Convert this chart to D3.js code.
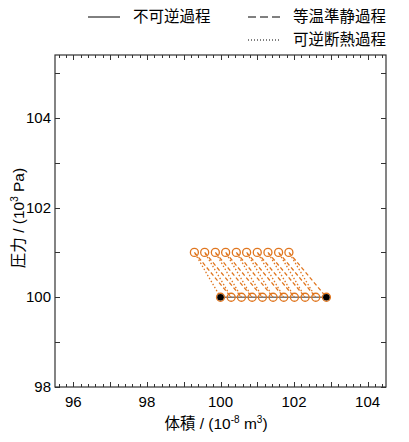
<!DOCTYPE html>
<html>
<head>
<meta charset="utf-8">
<script src="https://cdn.jsdelivr.net/npm/d3@7"></script>
<style>
  body { margin: 0; background: #fff; }
  text { font-family: "Liberation Sans", Arial, "Noto Sans CJK JP", sans-serif; fill: #000; }
</style>
</head>
<body>
<div id="chart"></div>
<script>
// pressures of the two levels (10^3 Pa)
var pLow = 100, pHigh = 101;

// volumes (10^-8 m^3)
// bottom row: start of each step at pLow (first = start, last = end)
var bottomV = [100.00, 100.29, 100.57, 100.86, 101.14, 101.43, 101.72, 102.01, 102.30, 102.59, 102.88];
// top row: after the reversible adiabatic step, at pHigh
var topV = [99.29, 99.57, 99.86, 100.14, 100.43, 100.71, 101.00, 101.29, 101.58, 101.86];

// irreversible process, start and end
var irrev = [{v: 100.00, p: 100}, {v: 102.88, p: 100}];

var xTicks = [96, 98, 100, 102, 104];
var yTicks = [98, 100, 102, 104];

var legendItems = [
  {label: "不可逆過程", type: "solid"},
  {label: "等温準静過程", type: "dash"},
  {label: "可逆断熱過程", type: "dot"}
];

var W = 409, H = 442;
var L = 55, R = 386, T = 55, B = 387;
var orange = "#e0761f";

var svg = d3.select("#chart").append("svg")
  .attr("width", W).attr("height", H);

var x = d3.scaleLinear().domain([95.5, 104.5]).range([L, R]);
var y = d3.scaleLinear().domain([98, 105.4]).range([B, T]);

// ticks (inside, on all four sides)
var xMinor = d3.range(95.6, 104.5, 0.2).map(function(d){ return +d.toFixed(1) });
var xMajor = d3.range(96, 105, 1);
var yMajor = d3.range(98, 106, 1);

function addTicks(data, len, isX) {
  var g = svg.append("g").attr("stroke", "#333").attr("stroke-width", 1);
  data.forEach(function(d){
    if (isX) {
      var px = Math.round(x(d)) + 0.5;
      g.append("line").attr("x1", px).attr("x2", px).attr("y1", B).attr("y2", B - len);
      g.append("line").attr("x1", px).attr("x2", px).attr("y1", T).attr("y2", T + len);
    } else {
      var py = Math.round(y(d)) + 0.5;
      g.append("line").attr("y1", py).attr("y2", py).attr("x1", L).attr("x2", L + len);
      g.append("line").attr("y1", py).attr("y2", py).attr("x1", R).attr("x2", R - len);
    }
  });
}
addTicks(xMinor, 3, true);
addTicks(xMajor, 5, true);
addTicks(yMajor, 5, false);

// frame
svg.append("rect")
  .attr("x", L).attr("y", T).attr("width", R - L).attr("height", B - T)
  .attr("fill", "none").attr("stroke", "#333").attr("stroke-width", 1.2);

// tick labels
svg.selectAll(".xl").data(xTicks).enter().append("text")
  .attr("x", function(d){ return x(d) }).attr("y", B + 20)
  .attr("text-anchor", "middle").style("font-size", "15px")
  .text(function(d){ return d });

svg.selectAll(".yl").data(yTicks).enter().append("text")
  .attr("x", L - 4).attr("y", function(d){ return y(d) + 5 })
  .attr("text-anchor", "end").style("font-size", "15px")
  .text(function(d){ return d });

// axis titles
var xt = svg.append("text").attr("x", 216).attr("y", 429)
  .attr("text-anchor", "middle").style("font-size", "15.5px");
xt.append("tspan").text("体積 / (10");
xt.append("tspan").attr("dy", -6).style("font-size", "10px").text("-8");
xt.append("tspan").attr("dy", 6).text(" m");
xt.append("tspan").attr("dy", -6).style("font-size", "10px").text("3");
xt.append("tspan").attr("dy", 6).text(")");

var yt = svg.append("text")
  .attr("transform", "translate(24,218) rotate(-90)")
  .attr("text-anchor", "middle").style("font-size", "15.5px");
yt.append("tspan").text("圧力 / (10");
yt.append("tspan").attr("dy", -6).style("font-size", "10px").text("3");
yt.append("tspan").attr("dy", 6).text(" Pa)");

// irreversible process line
var line = d3.line().x(function(d){ return x(d.v) }).y(function(d){ return y(d.p) });
svg.append("path").datum(irrev)
  .attr("d", line).attr("fill", "none")
  .attr("stroke", "#777").attr("stroke-width", 1.5);

// adiabatic (dotted): bottom i -> top i
var adiab = topV.map(function(v, i){ return [{v: bottomV[i], p: pLow}, {v: v, p: pHigh}] });
// isothermal (dashed): top i -> bottom i+1
var iso = topV.map(function(v, i){ return [{v: v, p: pHigh}, {v: bottomV[i + 1], p: pLow}] });

svg.selectAll(".adiab").data(adiab).enter().append("path")
  .attr("d", line).attr("fill", "none")
  .attr("stroke", orange).attr("stroke-width", 1.3)
  .attr("stroke-dasharray", "1.5,2");

svg.selectAll(".iso").data(iso).enter().append("path")
  .attr("d", line).attr("fill", "none")
  .attr("stroke", orange).attr("stroke-width", 1.3)
  .attr("stroke-dasharray", "4,2.5");

// state points
var pts = bottomV.map(function(v){ return {v: v, p: pLow} })
  .concat(topV.map(function(v){ return {v: v, p: pHigh} }));
svg.selectAll(".pt").data(pts).enter().append("circle")
  .attr("cx", function(d){ return x(d.v) })
  .attr("cy", function(d){ return y(d.p) })
  .attr("r", 4).attr("fill", "none")
  .attr("stroke", orange).attr("stroke-width", 1.3);

svg.selectAll(".ends").data(irrev).enter().append("circle")
  .attr("cx", function(d){ return x(d.v) })
  .attr("cy", function(d){ return y(d.p) })
  .attr("r", 3.3).attr("fill", "#000");

// legend
var legPos = [{x: 88, y: 17}, {x: 248, y: 17}, {x: 248, y: 40}];
legendItems.forEach(function(d, i){
  var p = legPos[i];
  var ln = svg.append("line")
    .attr("x1", p.x).attr("x2", p.x + 32)
    .attr("y1", p.y).attr("y2", p.y)
    .attr("stroke", "#000").attr("stroke-width", 1);
  if (d.type == "dash") ln.attr("stroke-dasharray", "8,4");
  if (d.type == "dot") ln.attr("stroke-dasharray", "1,2");
  svg.append("text").attr("x", p.x + 45).attr("y", p.y + 5)
    .style("font-size", "15.5px").text(d.label);
});
</script>
</body>
</html>
